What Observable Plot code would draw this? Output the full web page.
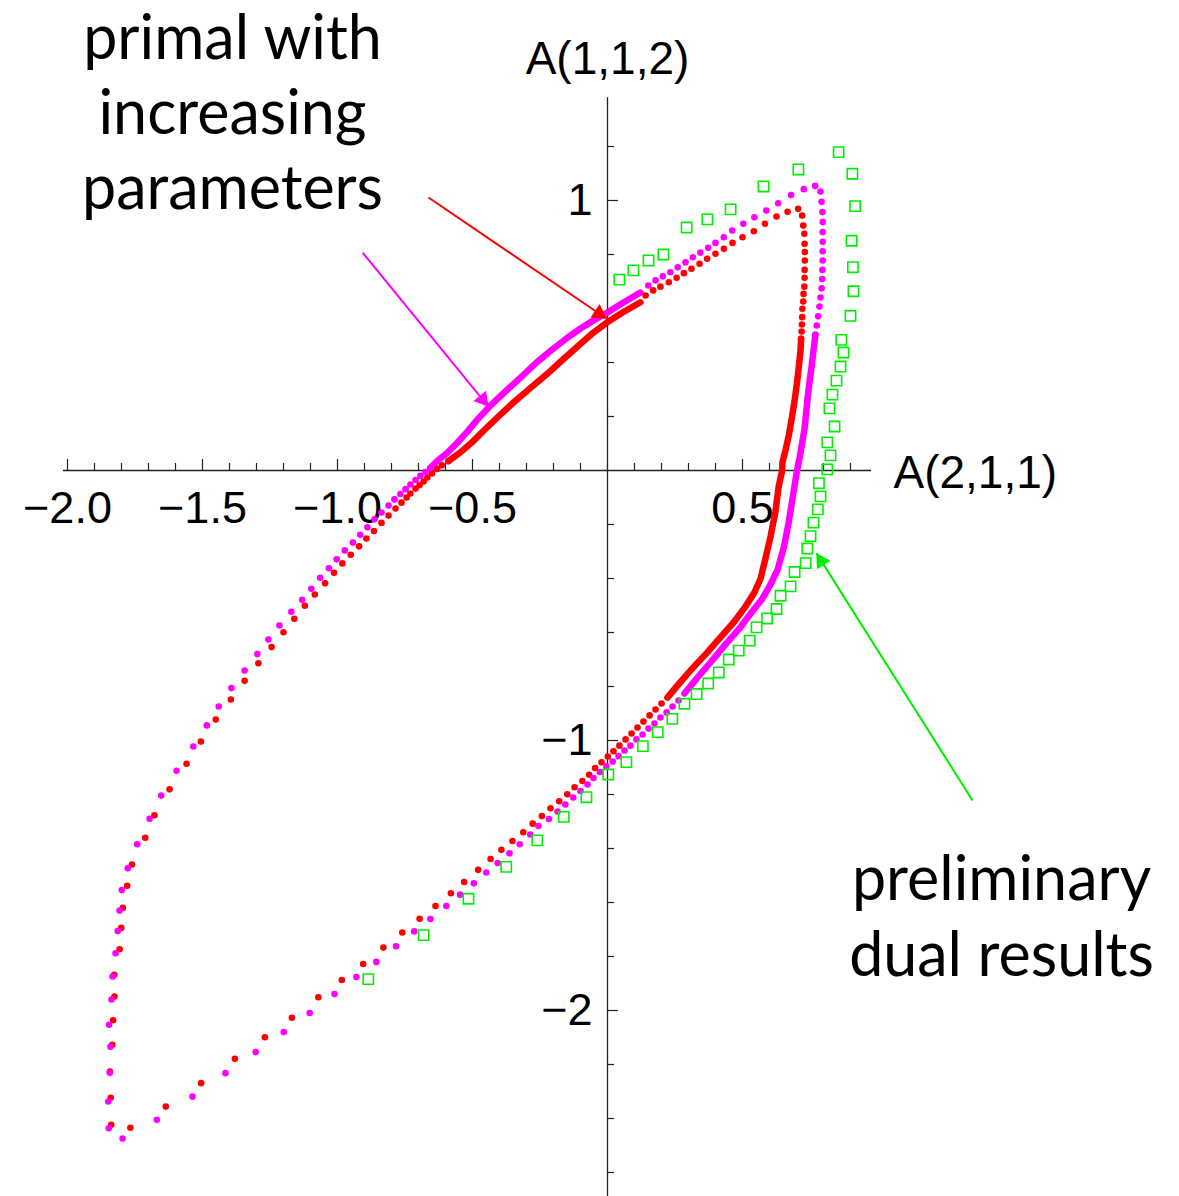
<!DOCTYPE html>
<html>
<head>
<meta charset="utf-8">
<script src="https://cdn.jsdelivr.net/npm/d3@7"></script>
<script src="https://cdn.jsdelivr.net/npm/@observablehq/plot@0.6"></script>
<style>
  html, body { margin: 0; padding: 0; background: #fff; }
  #chart svg { display: block; }
</style>
</head>
<body>
<div id="chart"></div>
<script>
// Primal bounds, red series: [A(2,1,1), A(1,1,2)] sample points around the loop
const primalPoints = [
  [-1.838,-2.423],[-1.840,-2.323],[-1.843,-2.226],[-1.834,-2.127],[-1.831,-2.036],[-1.826,-1.948],
  [-1.827,-1.868],[-1.807,-1.773],[-1.801,-1.694],[-1.795,-1.620],[-1.779,-1.538],[-1.761,-1.459],
  [-1.712,-1.360],[-1.678,-1.277],[-1.622,-1.181],[-1.559,-1.086],[-1.506,-1.004],[-1.451,-0.922],
  [-1.395,-0.848],[-1.344,-0.779],[-1.293,-0.714],[-1.244,-0.654],[-1.200,-0.599],[-1.160,-0.549],
  [-1.121,-0.501],[-1.084,-0.459],[-1.046,-0.418],[-1.013,-0.379],[-0.982,-0.344],[-0.951,-0.312],
  [-0.920,-0.281],[-0.893,-0.252],[-0.865,-0.224],[-0.837,-0.194],[-0.811,-0.167],[-0.785,-0.141],
  [-0.763,-0.119],[-0.744,-0.100],[-0.730,-0.085],[-0.711,-0.067],[-0.696,-0.054],[-0.681,-0.041],
  [-0.667,-0.026],[-0.650,-0.011],[-0.631,0.006],[-0.613,0.019],[-0.589,0.035],
  [0.141,0.648],[0.169,0.667],[0.196,0.681],[0.227,0.697],[0.256,0.714],[0.283,0.731],[0.311,0.747],
  [0.341,0.766],[0.369,0.784],[0.400,0.803],[0.431,0.821],[0.463,0.843],[0.500,0.864],[0.542,0.886],
  [0.583,0.914],[0.626,0.941],[0.667,0.958],[0.706,0.969],
  [0.721,0.944],[0.725,0.907],[0.729,0.877],[0.730,0.840],[0.731,0.809],[0.731,0.778],[0.730,0.743],
  [0.730,0.714],[0.729,0.681],[0.726,0.654],[0.725,0.626],[0.722,0.599],[0.721,0.568],[0.720,0.541],
  [0.719,0.515],[0.717,0.488],
  [0.200,-0.863],[0.178,-0.885],[0.156,-0.907],[0.133,-0.930],[0.111,-0.952],[0.089,-0.974],
  [0.067,-0.996],[0.044,-1.019],[0.022,-1.040],[0.001,-1.059],[-0.022,-1.081],[-0.046,-1.102],
  [-0.068,-1.127],[-0.093,-1.150],[-0.122,-1.173],[-0.149,-1.199],[-0.179,-1.225],[-0.211,-1.251],
  [-0.243,-1.280],[-0.277,-1.308],[-0.312,-1.340],[-0.352,-1.372],[-0.393,-1.405],[-0.433,-1.439],
  [-0.479,-1.479],[-0.531,-1.524],[-0.580,-1.566],[-0.637,-1.613],[-0.696,-1.660],[-0.760,-1.711],
  [-0.830,-1.767],[-0.905,-1.828],[-0.984,-1.887],[-1.071,-1.951],[-1.169,-2.027],[-1.269,-2.099],
  [-1.380,-2.179],[-1.505,-2.269],[-1.636,-2.356],[-1.767,-2.434]
];
// Red series where the samples are packed so tightly they form a solid band
const primalBandUpper = [
  [-0.589,0.035],[-0.544,0.068],[-0.501,0.105],[-0.458,0.148],[-0.404,0.200],[-0.347,0.253],
  [-0.285,0.306],[-0.223,0.358],[-0.163,0.413],[-0.100,0.469],[-0.052,0.511],[-0.001,0.549],
  [0.059,0.587],[0.122,0.623]
];
const primalBandRight = [
  [0.717,0.488],[0.715,0.444],[0.709,0.389],[0.702,0.326],[0.693,0.259],[0.683,0.196],[0.672,0.133],
  [0.659,0.074],[0.648,0.030],[0.647,0.000],[0.634,-0.059],[0.622,-0.152],[0.604,-0.244],
  [0.585,-0.326],[0.567,-0.400],[0.544,-0.452],[0.511,-0.504],[0.467,-0.563],[0.415,-0.622],
  [0.363,-0.681],[0.307,-0.741],[0.256,-0.800],[0.222,-0.841]
];

// Primal with increasing parameters, magenta series
const increasingPoints = [
  [-1.796,-2.474],[-1.847,-2.436],[-1.849,-2.337],[-1.843,-2.231],[-1.841,-2.134],[-1.846,-2.053],
  [-1.837,-1.959],[-1.833,-1.874],[-1.822,-1.788],[-1.814,-1.706],[-1.807,-1.630],[-1.799,-1.554],
  [-1.777,-1.473],[-1.742,-1.384],[-1.696,-1.290],[-1.653,-1.204],[-1.596,-1.112],[-1.534,-1.022],
  [-1.484,-0.944],[-1.440,-0.874],[-1.393,-0.806],[-1.344,-0.741],[-1.297,-0.680],[-1.256,-0.626],
  [-1.215,-0.574],[-1.171,-0.523],[-1.131,-0.479],[-1.097,-0.438],[-1.064,-0.397],[-1.032,-0.362],
  [-1.003,-0.329],[-0.973,-0.296],[-0.943,-0.267],[-0.916,-0.238],[-0.889,-0.210],[-0.863,-0.181],
  [-0.837,-0.156],[-0.811,-0.130],[-0.789,-0.107],[-0.767,-0.087],[-0.748,-0.069],[-0.730,-0.052],
  [-0.711,-0.035],[-0.693,-0.020],[-0.674,-0.006],[-0.656,0.009],
  [0.151,0.685],[0.178,0.704],[0.205,0.719],[0.233,0.734],[0.260,0.753],[0.289,0.771],[0.316,0.790],
  [0.344,0.807],[0.373,0.825],[0.400,0.843],[0.431,0.864],[0.462,0.889],[0.503,0.914],[0.544,0.938],
  [0.588,0.963],[0.632,0.990],[0.680,1.020],[0.727,1.042],[0.769,1.054],[0.789,1.033],
  [0.793,0.995],[0.796,0.957],[0.797,0.920],[0.797,0.883],[0.797,0.847],[0.797,0.812],[0.797,0.778],
  [0.796,0.743],[0.795,0.709],[0.793,0.675],[0.789,0.641],[0.785,0.607],[0.780,0.571],[0.775,0.537],
  [0.770,0.503],
  [0.263,-0.852],[0.241,-0.874],[0.219,-0.896],[0.196,-0.915],[0.174,-0.937],[0.152,-0.956],
  [0.130,-0.978],[0.107,-0.996],[0.085,-1.019],[0.063,-1.037],[0.041,-1.058],[0.019,-1.078],
  [-0.004,-1.096],[-0.028,-1.117],[-0.052,-1.139],[-0.074,-1.163],[-0.100,-1.187],[-0.127,-1.211],
  [-0.156,-1.237],[-0.185,-1.263],[-0.217,-1.291],[-0.256,-1.317],[-0.286,-1.348],[-0.325,-1.384],
  [-0.363,-1.418],[-0.407,-1.454],[-0.449,-1.489],[-0.495,-1.529],[-0.546,-1.571],[-0.597,-1.613],
  [-0.656,-1.661],[-0.716,-1.707],[-0.783,-1.762],[-0.856,-1.820],[-0.930,-1.876],[-1.011,-1.939],
  [-1.103,-2.009],[-1.199,-2.080],[-1.303,-2.154],[-1.415,-2.232],[-1.537,-2.319],[-1.669,-2.405]
];
const increasingBandUpper = [
  [-0.656,0.009],[-0.633,0.033],[-0.596,0.063],[-0.559,0.100],[-0.519,0.144],[-0.478,0.193],
  [-0.433,0.241],[-0.378,0.293],[-0.322,0.344],[-0.263,0.400],[-0.200,0.452],[-0.152,0.489],
  [-0.100,0.526],[-0.052,0.556],[0.000,0.585],[0.059,0.622],[0.122,0.659]
];
const increasingBandRight = [
  [0.770,0.503],[0.763,0.444],[0.756,0.385],[0.748,0.326],[0.741,0.267],[0.735,0.207],[0.730,0.156],
  [0.720,0.096],[0.711,0.044],[0.702,0.000],[0.688,-0.087],[0.671,-0.193],[0.653,-0.285],
  [0.630,-0.367],[0.604,-0.422],[0.574,-0.474],[0.533,-0.526],[0.489,-0.585],[0.437,-0.644],
  [0.385,-0.707],[0.333,-0.767],[0.285,-0.826]
];

// Preliminary dual results, green squares
const dualPoints = [
  [0.044,0.707],[0.096,0.741],[0.152,0.778],[0.207,0.800],[0.293,0.900],[0.370,0.930],[0.456,0.967],
  [0.578,1.052],[0.707,1.115],[0.856,1.179],[0.907,1.099],[0.917,0.979],[0.904,0.851],[0.909,0.753],
  [0.911,0.664],[0.900,0.573],[0.866,0.484],[0.874,0.437],[0.863,0.385],[0.848,0.333],[0.833,0.281],
  [0.822,0.230],[0.841,0.163],[0.814,0.104],[0.826,0.056],[0.814,0.004],[0.783,-0.047],[0.789,-0.096],
  [0.779,-0.144],[0.763,-0.193],[0.752,-0.243],[0.740,-0.289],[0.734,-0.343],[0.693,-0.376],
  [0.678,-0.429],[0.641,-0.464],[0.626,-0.513],[0.591,-0.548],[0.552,-0.581],[0.527,-0.630],
  [0.486,-0.667],[0.449,-0.700],[0.412,-0.748],[0.373,-0.789],[0.330,-0.828],[0.285,-0.864],
  [0.240,-0.920],[0.186,-0.969],[0.131,-1.021],[0.070,-1.080],[0.003,-1.126],[-0.078,-1.210],
  [-0.162,-1.283],[-0.260,-1.370],[-0.375,-1.468],[-0.515,-1.586],[-0.681,-1.721],[-0.886,-1.884]
];

// Axis ticks and labels
const xMajorTicks = [-2, -1.5, -1, -0.5, 0.5];
const xTickLabels = ["−2.0", "−1.5", "−1.0", "−0.5", "0.5"];
const yMajorTicks = [-2, -1, 1];
const yTickLabels = ["−2", "−1", "1"];
const xMinorTicks = d3.range(-20, 10).map(i => i / 10)
  .filter(v => Math.abs(v) > 1e-9 && !xMajorTicks.some(m => Math.abs(m - v) < 1e-9));
const yMinorTicks = d3.range(-13, 7).map(i => i / 5)
  .filter(v => Math.abs(v) > 1e-9 && !yMajorTicks.some(m => Math.abs(m - v) < 1e-9));

// Annotations: text and pointer arrows, [from, to] in data units
const primalNote = "primal with\nincreasing\nparameters";
const dualNote = "preliminary\ndual results";
const redPointer = [[-0.663, 1.011], [-0.004, 0.563]];
const magentaPointer = [[-0.907, 0.807], [-0.441, 0.237]];
const greenPointer = [[1.352, -1.222], [0.774, -0.307]];

const RED = "#ff0000", MAGENTA = "#ff00ff", GREEN = "#00ee00", AXIS = "#222";
const PX = 1 / 270; // one screen pixel in data units (equal aspect)
const tickFont = "'Liberation Sans', Arial, Helvetica, sans-serif";
const noteFont = "Lato, 'Open Sans', sans-serif";

const xy = {x: d => d[0], y: d => d[1]};

// Pointer: a shaft plus a filled triangular head whose centroid sits just behind the tip
function pointer(p, color) {
  const [[x1, y1], [x2, y2]] = p;
  const dx = x2 - x1, dy = y2 - y1, len = Math.hypot(dx, dy);
  const back = 9 * PX;
  const head = {
    x: x2 - dx / len * back,
    y: y2 - dy / len * back,
    rotate: Math.atan2(-dy, dx) * 180 / Math.PI + 90
  };
  return [
    Plot.link([p], {x1: d => d[0][0], y1: d => d[0][1], x2: d => d[1][0], y2: d => d[1][1],
      stroke: color, strokeWidth: 2}),
    Plot.dot([head], {x: "x", y: "y", rotate: "rotate", symbol: "triangle", r: 6, fill: color, stroke: "none"})
  ];
}

const chart = Plot.plot({
  width: 1179,
  height: 1196,
  marginTop: 0, marginRight: 0, marginBottom: 0, marginLeft: 0,
  x: {domain: [-607 * PX, 572 * PX], axis: null},
  y: {domain: [-726 * PX, 470 * PX], axis: null},
  style: {background: "white", overflow: "visible"},
  marks: [
    // axes through the origin
    Plot.ruleY([0], {x1: -2.015, x2: 0.978, stroke: AXIS, strokeWidth: 1.3}),
    Plot.ruleX([0], {y1: -726 * PX, y2: 1.381, stroke: AXIS, strokeWidth: 1.3}),
    Plot.ruleX(xMinorTicks, {x: d => d, y1: 0, y2: 7 * PX, stroke: AXIS, strokeWidth: 1.2}),
    Plot.ruleX(xMajorTicks, {x: d => d, y1: 0, y2: 11 * PX, stroke: AXIS, strokeWidth: 1.2}),
    Plot.ruleY(yMinorTicks, {y: d => d, x1: 0, x2: 7 * PX, stroke: AXIS, strokeWidth: 1.2}),
    Plot.ruleY(yMajorTicks, {y: d => d, x1: 0, x2: 11 * PX, stroke: AXIS, strokeWidth: 1.2}),
    Plot.text(xMajorTicks, {x: d => d, y: 0, dy: 38, text: (d, i) => xTickLabels[i],
      fontFamily: tickFont, fontSize: 45, fill: "black"}),
    Plot.text(yMajorTicks, {x: 0, y: d => d, dx: -15, text: (d, i) => yTickLabels[i],
      textAnchor: "end", fontFamily: tickFont, fontSize: 45, fill: "black"}),
    Plot.text(["A(1,1,2)"], {x: 0, y: 411 * PX, text: d => d,
      fontFamily: tickFont, fontSize: 46, fill: "black"}),
    Plot.text(["A(2,1,1)"], {x: 286 * PX, y: -3 * PX, text: d => d, textAnchor: "start",
      fontFamily: tickFont, fontSize: 46, fill: "black"}),

    // dense runs of samples
    Plot.line(primalBandUpper, {...xy, stroke: RED, strokeWidth: 6.5, strokeLinecap: "round"}),
    Plot.line(primalBandRight, {...xy, stroke: RED, strokeWidth: 6.5, strokeLinecap: "round"}),
    Plot.line(increasingBandUpper, {...xy, stroke: MAGENTA, strokeWidth: 6.5, strokeLinecap: "round"}),
    Plot.line(increasingBandRight, {...xy, stroke: MAGENTA, strokeWidth: 6.5, strokeLinecap: "round"}),

    // individual samples
    Plot.dot(primalPoints, {...xy, r: 3.3, fill: RED}),
    Plot.dot(increasingPoints, {...xy, r: 3.3, fill: MAGENTA}),
    Plot.dot(dualPoints, {...xy, symbol: "square", r: 5.8, fill: "none", stroke: GREEN, strokeWidth: 1.6}),

    // annotations
    ...pointer(redPointer, RED),
    ...pointer(magentaPointer, MAGENTA),
    ...pointer(greenPointer, GREEN),
    Plot.text([primalNote], {x: -375 * PX, y: 465 * PX, text: d => d, lineAnchor: "top",
      lineHeight: 1.23, fontFamily: noteFont, fontSize: 61, fill: "black"}),
    Plot.text([dualNote], {x: 394 * PX, y: -376 * PX, text: d => d, lineAnchor: "top",
      lineHeight: 1.24, fontFamily: noteFont, fontSize: 61, fill: "black"})
  ]
});

document.getElementById("chart").appendChild(chart);
</script>
</body>
</html>
